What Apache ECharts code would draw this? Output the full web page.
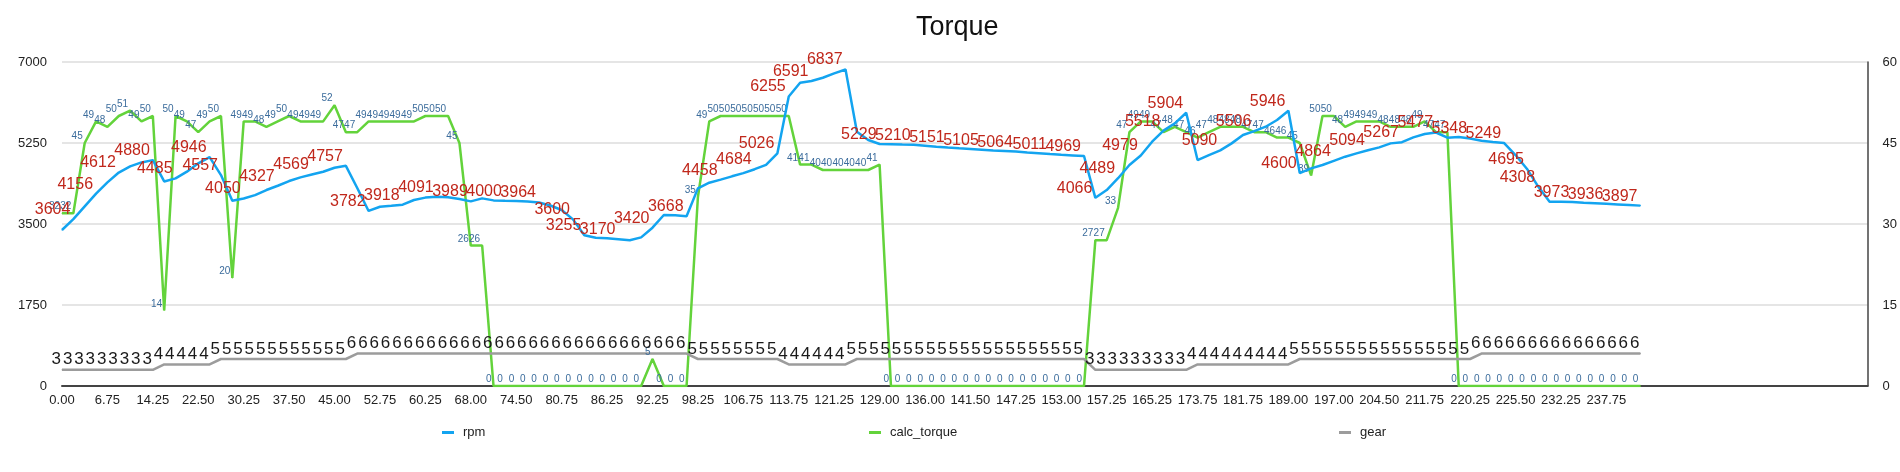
<!DOCTYPE html>
<html>
<head>
<meta charset="utf-8">
<title>Torque</title>
<script src="https://cdn.jsdelivr.net/npm/echarts@6/dist/echarts.min.js"></script>
<style>
  html, body { margin: 0; padding: 0; background: #fff; }
  #chart { width: 1900px; height: 472px; }
</style>
</head>
<body>
<div id="chart"></div>
<script>
// time stamps (x categories)
const times = [
  0.00, 1.75, 3.50, 5.00, 6.75, 8.75, 10.50, 12.50, 14.25, 16.25, 18.50, 20.50,
  22.50, 24.50, 26.50, 28.25, 30.25, 32.00, 34.00, 35.75, 37.50, 39.50, 41.25, 43.25,
  45.00, 47.00, 49.00, 50.75, 52.75, 54.75, 56.50, 58.50, 60.25, 62.25, 64.25, 66.00,
  68.00, 69.75, 71.25, 73.00, 74.50, 76.00, 77.75, 79.25, 80.75, 82.25, 83.50, 85.00,
  86.25, 87.75, 89.25, 90.75, 92.25, 93.75, 95.25, 96.75, 98.25, 100.50, 102.50, 104.75,
  106.75, 108.50, 110.25, 112.00, 113.75, 115.75, 117.50, 119.50, 121.25, 123.25, 125.25, 127.00,
  129.00, 130.75, 132.50, 134.25, 136.00, 137.50, 138.75, 140.25, 141.50, 143.00, 144.50, 145.75,
  147.25, 148.75, 150.25, 151.50, 153.00, 154.00, 155.25, 156.25, 157.25, 159.25, 161.25, 163.25,
  165.25, 167.50, 169.50, 171.75, 173.75, 175.75, 177.75, 179.75, 181.75, 183.50, 185.50, 187.25,
  189.00, 191.00, 193.00, 195.00, 197.00, 199.00, 200.75, 202.75, 204.50, 206.25, 208.25, 210.00,
  211.75, 214.00, 216.00, 218.25, 220.25, 221.50, 222.75, 224.25, 225.50, 227.25, 229.00, 230.50,
  232.25, 233.75, 235.00, 236.50, 237.75, 239.00, 240.50, 242.00
];

const rpm = [
  3370, 3604, 3880, 4156, 4400, 4612, 4745, 4830, 4880, 4420,
  4485, 4630, 4810, 4946, 4557, 4003, 4050, 4125, 4234, 4327,
  4428, 4507, 4569, 4630, 4716, 4757, 4277, 3782, 3873, 3895,
  3918, 4018, 4070, 4091, 4080, 4040, 3989, 4054, 4010, 4000,
  3995, 3985, 3964, 3900, 3802, 3600, 3255, 3204, 3190, 3170,
  3150, 3211, 3420, 3694, 3690, 3668, 4270, 4392, 4458, 4530,
  4600, 4684, 4776, 5026, 6255, 6552, 6591, 6660, 6754, 6837,
  5494, 5314, 5229, 5222, 5215, 5210, 5190, 5170, 5151, 5135,
  5120, 5105, 5090, 5078, 5064, 5045, 5028, 5011, 4995, 4982,
  4969, 4066, 4234, 4489, 4774, 4979, 5278, 5518, 5674, 5904,
  4882, 4990, 5090, 5242, 5422, 5506, 5602, 5746, 5946, 4600,
  4702, 4774, 4864, 4954, 5026, 5094, 5155, 5242, 5267, 5371,
  5443, 5477, 5364, 5380, 5348, 5300, 5270, 5249, 4990, 4695,
  4308, 3982, 3980, 3973, 3960, 3948, 3936, 3923, 3910, 3897
];

const calcTorque = [
  32, 32, 45, 49, 48, 50, 51, 49, 50, 14,
  50, 49, 47, 49, 50, 20, 49, 49, 48, 49,
  50, 49, 49, 49, 52, 47, 47, 49, 49, 49,
  49, 49, 50, 50, 50, 45, 26, 26, 0, 0,
  0, 0, 0, 0, 0, 0, 0, 0, 0, 0,
  0, 0, 5, 0, 0, 0, 35, 49, 50, 50,
  50, 50, 50, 50, 50, 41, 41, 40, 40, 40,
  40, 40, 41, 0, 0, 0, 0, 0, 0, 0,
  0, 0, 0, 0, 0, 0, 0, 0, 0, 0,
  0, 27, 27, 33, 47, 49, 49, 47, 48, 47,
  46, 47, 48, 48, 48, 47, 47, 46, 46, 45,
  39, 50, 50, 48, 49, 49, 49, 48, 48, 48,
  49, 47, 47, 0, 0, 0, 0, 0, 0, 0,
  0, 0, 0, 0, 0, 0, 0, 0, 0, 0
];

const gear = [
  3, 3, 3, 3, 3, 3, 3, 3, 3, 4,
  4, 4, 4, 4, 5, 5, 5, 5, 5, 5,
  5, 5, 5, 5, 5, 5, 6, 6, 6, 6,
  6, 6, 6, 6, 6, 6, 6, 6, 6, 6,
  6, 6, 6, 6, 6, 6, 6, 6, 6, 6,
  6, 6, 6, 6, 6, 6, 5, 5, 5, 5,
  5, 5, 5, 5, 4, 4, 4, 4, 4, 4,
  5, 5, 5, 5, 5, 5, 5, 5, 5, 5,
  5, 5, 5, 5, 5, 5, 5, 5, 5, 5,
  5, 3, 3, 3, 3, 3, 3, 3, 3, 3,
  4, 4, 4, 4, 4, 4, 4, 4, 4, 5,
  5, 5, 5, 5, 5, 5, 5, 5, 5, 5,
  5, 5, 5, 5, 5, 6, 6, 6, 6, 6,
  6, 6, 6, 6, 6, 6, 6, 6, 6, 6
];

// rpm points whose value label is visible in the original
const rpmLabelIdx = [1, 3, 5, 8, 10, 13, 14, 16, 19, 22, 25, 27, 30, 33, 36, 39, 42, 45, 46, 49,
  52, 55, 58, 61, 63, 64, 66, 69, 72, 75, 78, 81, 84, 87, 90, 91, 93, 95, 97, 99,
  102, 105, 108, 109, 112, 115, 118, 121, 124, 127, 129, 130, 133, 136, 139];

const FONT = '"Liberation Sans", Arial, Helvetica, sans-serif';

// axis keeps going after the last sample, with empty slots
const categories = times.map(t => t.toFixed(2)).concat(new Array(20).fill(''));

function pointLabel(color, size, dx) {
  return {
    show: true, position: 'top', distance: 1, align: 'right', offset: [dx, 0],
    color: color, fontSize: size, fontFamily: FONT
  };
}

function legendAt(name, left) {
  return {
    data: [name], left: left, top: 421, icon: 'rect', itemWidth: 12, itemHeight: 3,
    textStyle: { color: '#222', fontSize: 13, fontFamily: FONT, padding: [0, 0, 0, 4] }
  };
}

const chart = echarts.init(document.getElementById('chart'));

chart.setOption({
  animation: false,
  backgroundColor: '#fff',
  title: {
    text: 'Torque', left: 911, top: 9,
    textStyle: { fontSize: 27, fontWeight: 'normal', color: '#111', fontFamily: FONT }
  },
  legend: [legendAt('rpm', 437), legendAt('calc_torque', 864), legendAt('gear', 1334)],
  grid: { left: 62, right: 28, top: 62, bottom: 86 },
  xAxis: {
    type: 'category',
    boundaryGap: false,
    data: categories,
    axisLine: { lineStyle: { color: '#444', width: 2 } },
    axisTick: { show: false },
    axisLabel: { interval: 3, color: '#222', fontSize: 13, fontFamily: FONT, margin: 8 },
    splitLine: { show: false }
  },
  yAxis: [
    {
      type: 'value', min: 0, max: 7000, interval: 1750,
      axisLine: { show: false }, axisTick: { show: false },
      axisLabel: { color: '#222', fontSize: 13, fontFamily: FONT, margin: 15, formatter: v => String(v) },
      splitLine: { lineStyle: { color: '#dcdcdc', width: 1.5 } }
    },
    {
      type: 'value', min: 0, max: 60, interval: 15, position: 'right',
      axisLine: { show: true, lineStyle: { color: '#444', width: 1.5 } },
      axisTick: { show: false },
      axisLabel: { color: '#222', fontSize: 13, fontFamily: FONT, margin: 15, formatter: v => String(v) },
      splitLine: { show: false }
    }
  ],
  series: [
    {
      name: 'rpm', type: 'line', yAxisIndex: 0,
      data: rpm.map((v, i) => ({ value: v, label: { show: rpmLabelIdx.indexOf(i) >= 0 } })),
      color: '#13a4f0',
      lineStyle: { width: 2.5 },
      symbol: 'circle', symbolSize: 1, showAllSymbol: true,
      label: pointLabel('#c0271b', 16, -3),
      z: 3
    },
    {
      name: 'calc_torque', type: 'line', yAxisIndex: 1,
      data: calcTorque,
      color: '#63d33b',
      lineStyle: { width: 2.5 },
      symbol: 'circle', symbolSize: 1, showAllSymbol: true,
      label: pointLabel('#3b6c9c', 10, -2),
      z: 2
    },
    {
      name: 'gear', type: 'line', yAxisIndex: 1,
      data: gear,
      color: '#9c9c9c',
      lineStyle: { width: 2.5 },
      symbol: 'circle', symbolSize: 1, showAllSymbol: true,
      label: pointLabel('#1a1a1a', 17, -1),
      z: 2
    }
  ]
});
</script>
</body>
</html>
